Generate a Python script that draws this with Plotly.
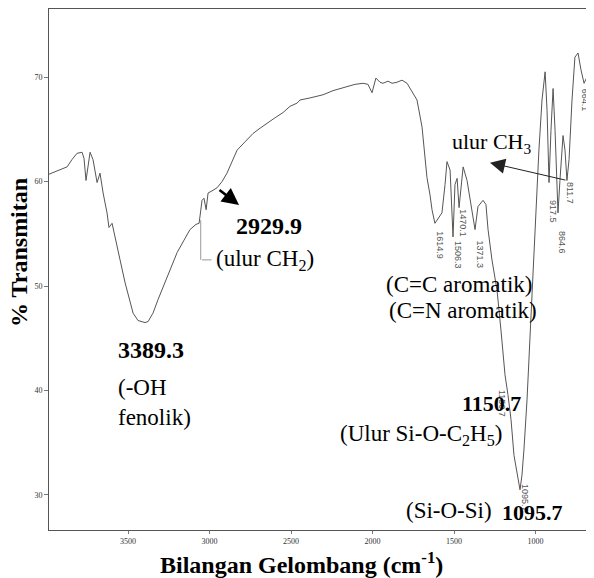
import plotly.graph_objects as go

# FTIR spectrum (wavenumber cm-1, %T)
wavenumber = [3985, 3917, 3874, 3844, 3813, 3782, 3770, 3758, 3752, 3733, 3715, 3702, 3690, 3672,
              3653, 3629, 3617, 3598, 3574, 3549, 3518, 3500, 3469, 3439, 3396, 3377, 3347, 3316,
              3285, 3242, 3199, 3156, 3120, 3083, 3064, 3046, 3034, 3021, 3009, 2985, 2954, 2923,
              2893, 2862, 2831, 2782, 2733, 2690, 2647, 2598, 2549, 2506, 2463, 2445, 2383, 2304,
              2242, 2181, 2107, 2058, 2028, 2003, 1979, 1954, 1936, 1905, 1880, 1850, 1819, 1788,
              1758, 1727, 1696, 1678, 1666, 1647, 1635, 1617, 1598, 1574, 1555, 1543, 1524, 1506,
              1494, 1481, 1469, 1457, 1444, 1420, 1402, 1383, 1371, 1353, 1322, 1304, 1291, 1267,
              1236, 1212, 1187, 1169, 1150, 1132, 1113, 1095, 1083, 1071, 1052, 1034, 1015, 997,
              979, 960, 941, 929, 917, 905, 892, 880, 862, 850, 831, 819, 807, 794, 776, 758,
              739, 721, 702, 684, 665, 653, 641]
transmittance = [60.7, 61.1, 61.4, 62.1, 62.7, 62.8, 62.2, 60.1, 60.8, 62.8, 62.1, 60.8, 59.9, 60.8,
                 58.9, 57.0, 55.6, 56.0, 54.4, 52.5, 50.3, 49.3, 47.4, 46.7, 46.5, 46.6, 47.4, 48.7,
                 49.9, 51.5, 53.2, 54.4, 55.4, 55.9, 56.0, 58.2, 58.4, 57.3, 58.9, 59.1, 59.4, 60.0,
                 60.8, 61.9, 63.0, 63.8, 64.6, 65.1, 65.6, 66.1, 66.6, 67.2, 67.5, 67.8, 68.0, 68.3,
                 68.7, 69.0, 69.3, 69.4, 69.3, 68.5, 69.9, 69.5, 69.4, 69.6, 69.4, 69.5, 69.7, 69.4,
                 68.6, 67.8, 65.2, 62.1, 60.4, 58.7, 57.3, 56.0, 56.5, 57.0, 59.7, 61.9, 61.1, 54.7,
                 59.7, 60.3, 57.5, 59.7, 61.4, 60.1, 58.2, 56.3, 55.4, 57.6, 58.2, 57.8, 55.4, 52.5,
                 49.6, 45.8, 41.5, 39.6, 37.2, 33.8, 31.9, 30.5, 31.9, 34.3, 39.1, 45.1, 50.6, 57.3,
                 63.0, 67.8, 70.5, 66.8, 59.9, 64.9, 68.9, 64.9, 57.0, 60.1, 64.4, 63.0, 60.1, 62.1,
                 67.8, 71.9, 72.3, 70.7, 69.4, 70.0, 69.4, 70.4, 70.2]

x_ticks = [3500, 3000, 2500, 2000, 1500, 1000]
y_ticks = [30, 40, 50, 60, 70]

# small instrument peak labels (text, wavenumber, %T position)
peak_labels = ["1614.9", "1506.3", "1470.1", "1371.3", "917.5", "864.6", "811.7", "664.1", "1150.7", "1095.7"]
peak_label_x = [1586, 1472, 1445, 1340, 893, 837, 788, 695, 1205, 1064]
peak_label_y = [53.9, 53.0, 56.0, 53.0, 57.1, 54.2, 58.9, 67.8, 38.8, 29.7]

serif = "Liberation Serif, Times New Roman, serif"

fig = go.Figure()
fig.add_trace(go.Scatter(x=wavenumber, y=transmittance, mode="lines",
                         line=dict(color="#555555", width=1), hoverinfo="skip",
                         showlegend=False))

ann = []
for t, xv, yv in zip(peak_labels, peak_label_x, peak_label_y):
    ann.append(dict(x=xv, y=yv, xref="x", yref="y", text=t, showarrow=False,
                    textangle=90, font=dict(family="Liberation Sans, Arial, sans-serif",
                                            size=9, color="#555555")))

def label(text, xv, yv, size=23, anchor="center"):
    ann.append(dict(x=xv, y=yv, xref="x", yref="y", text=text, showarrow=False,
                    xanchor=anchor, yanchor="middle",
                    font=dict(family=serif, size=size, color="black")))

label("<b>2929.9</b>", 2635, 55.74, 24)
label("(ulur CH<sub>2</sub>)", 2660, 52.49, 23)
label("<b>3389.3</b>", 3574, 43.9, 24, "left")
label("(-OH", 3574, 40.24, 23, "left")
label("fenolik)", 3574, 37.37, 23, "left")
label("(C=C aromatik)", 1469, 50.1, 23)
label("(C=N aromatik)", 1445, 47.7, 23)
label("<b>1150.7</b>", 1273, 38.8, 22)
label("(Ulur Si-O-C<sub>2</sub>H<sub>5</sub>)", 1702, 35.74, 23)
label("(Si-O-Si)", 1528, 28.5, 23)
label("<b>1095.7</b>", 1018, 28.3, 22)
label("ulur CH<sub>3</sub>", 1267, 63.7, 22)

# arrows
ann.append(dict(x=2819, y=57.75, ax=2948, ay=59.3, xref="x", yref="y", axref="x", ayref="y",
                text="", showarrow=True, arrowhead=2, arrowsize=1.3, arrowwidth=2.6,
                arrowcolor="black"))
ann.append(dict(x=1279, y=61.8, ax=807, ay=60.1, xref="x", yref="y", axref="x", ayref="y",
                text="", showarrow=True, arrowhead=2, arrowsize=3, arrowwidth=1,
                arrowcolor="#222222"))

# axis titles (plot area is 545 x 521 px)
ann.append(dict(x=-30 / 545, y=(521 - 244) / 521, xref="paper", yref="paper",
                text="<b>% Transmitan</b>",
                textangle=-90, showarrow=False, xanchor="center", yanchor="middle",
                font=dict(family=serif, size=24, color="black")))
ann.append(dict(x=252 / 545, y=-33 / 521, xref="paper", yref="paper",
                text="<b>Bilangan Gelombang (cm<sup>-1</sup>)</b>",
                showarrow=False, xanchor="center", yanchor="middle",
                font=dict(family=serif, size=24, color="black")))

shapes = [
    dict(type="line", xref="x", yref="y", x0=3054, x1=3054, y0=56.3, y1=52.5,
         line=dict(color="#999999", width=1)),
    dict(type="line", xref="x", yref="y", x0=3046, x1=2987, y0=52.5, y1=52.5,
         line=dict(color="#999999", width=1)),
]

# the page body adds an 8px offset, so the figure is sized to fit the window
fig.update_layout(
    width=586, height=570,
    margin=dict(l=41, r=0, t=1, b=48, autoexpand=False),
    paper_bgcolor="white", plot_bgcolor="white",
    annotations=ann, shapes=shapes,
    xaxis=dict(range=[3985, 641], tickvals=x_ticks, showgrid=False, zeroline=False,
               showline=True, linecolor="#555555", linewidth=1, mirror=True,
               ticks="outside", ticklen=3, tickcolor="#777777", automargin=False,
               tickfont=dict(family=serif, size=8, color="#333333")),
    yaxis=dict(range=[26.65, 76.51], tickvals=y_ticks, showgrid=False, zeroline=False,
               showline=True, linecolor="#555555", linewidth=1, automargin=False,
               ticks="outside", ticklen=4, tickcolor="#777777",
               tickfont=dict(family=serif, size=8, color="#333333")),
)

fig.write_html("out.html")
